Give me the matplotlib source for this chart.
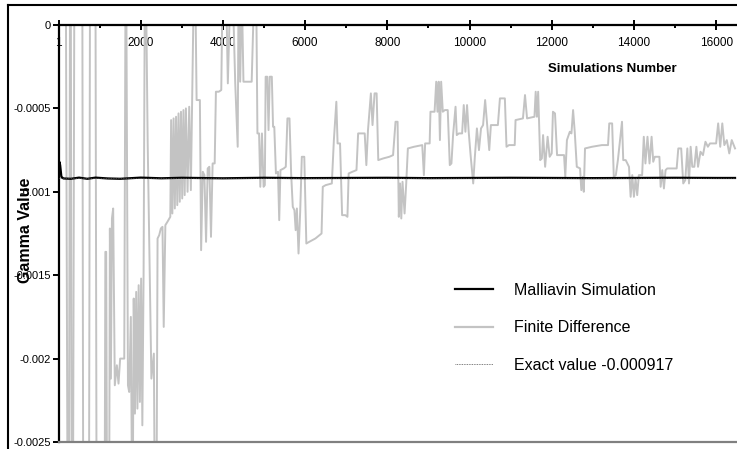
import matplotlib
matplotlib.use("Agg")
import matplotlib.pyplot as plt
from matplotlib.lines import Line2D
import numpy as np

plt.rcParams['font.family'] = ['Liberation Sans', 'DejaVu Sans']

SCALE = 1e-4  # values below are in units of 1e-4

fd_sims = [1, 180, 224, 250, 280, 300, 321, 350, 385, 580, 603, 740, 766, 900, 929, 1120, 1140, 1160, 1185, 1230,
           1250, 1275, 1300, 1330, 1370, 1420, 1460, 1500, 1600, 1630, 1650, 1690, 1720, 1760, 1800, 1830, 1860, 1890,
           1920, 1950, 1980, 2010, 2040, 2070, 2100, 2130, 2170, 2260, 2320, 2350, 2380, 2410, 2450, 2490, 2530, 2560,
           2600, 2650, 2720, 2740, 2770, 2800, 2830, 2860, 2890, 2920, 2950, 2980, 3010, 3040, 3070, 3100, 3140, 3180,
           3220, 3250, 3290, 3330, 3360, 3440, 3470, 3510, 3550, 3590, 3630, 3670, 3710, 3750, 3800, 3830, 3900, 3960,
           3990, 4080, 4120, 4180, 4240, 4300, 4360, 4380, 4420, 4460, 4500, 4700, 4760, 4810, 4840, 4880, 4910, 4950,
           4990, 5020, 5040, 5080, 5110, 5140, 5190, 5220, 5250, 5290, 5340, 5370, 5400, 5480, 5530, 5570, 5620, 5660,
           5700, 5740, 5770, 5800, 5840, 5880, 5920, 5980, 6030, 6100, 6250, 6400, 6430, 6500, 6650, 6700, 6760, 6790,
           6850, 6900, 6980, 7030, 7060, 7150, 7250, 7290, 7450, 7490, 7530, 7600, 7640, 7690, 7740, 7780, 7900, 8050,
           8140, 8200, 8250, 8280, 8310, 8340, 8370, 8420, 8460, 8500, 8650, 8850, 8890, 8920, 9030, 9050, 9150, 9190,
           9220, 9250, 9280, 9310, 9350, 9400, 9470, 9520, 9560, 9600, 9660, 9690, 9740, 9820, 9860, 9900, 9940, 9980,
           10030, 10090, 10130, 10180, 10230, 10280, 10330, 10380, 10430, 10480, 10520, 10690, 10740, 10860, 10900,
           10960, 11100, 11120, 11300, 11350, 11400, 11580, 11610, 11640, 11670, 11720, 11760, 11790, 11840, 11900,
           11950, 12000, 12030, 12080, 12130, 12300, 12330, 12370, 12440, 12480, 12520, 12560, 12610, 12690, 12720,
           12760, 12780, 12810, 12980, 13220, 13370, 13400, 13470, 13510, 13560, 13610, 13710, 13740, 13800, 13880,
           13920, 13960, 14000, 14040, 14080, 14120, 14200, 14240, 14280, 14330, 14380, 14430, 14470, 14510, 14620,
           14650, 14690, 14730, 14770, 14810, 15040, 15080, 15150, 15200, 15250, 15300, 15340, 15380, 15420, 15470,
           15520, 15560, 15620, 15680, 15740, 15800, 15850, 16000, 16050, 16100, 16150, 16200, 16260, 16320, 16380,
           16460]
fd_vals = [2, 2, -32, -32, 2, 2, -32, -32, 2, 2, -32, -32, 2, 2, -32, -32, -13.6, -13.6, -32, -32,
           -12.2, -21.2, -11.6, -11.0, -21.6, -20.4, -21.5, -20.0, -20.0, 2, 2, -21.6, -22.0, -17.5, -32, -16.4, -23.3, -16.0,
           -23.0, -15.6, -22.6, -15.2, -24.0, -15.0, 2, 2, -7.1, -21.2, -19.7, -32, -32, -12.8, -12.6, -12.2, -12.1, -18.1,
           -12.0, -11.8, -11.5, -5.7, -11.3, -5.6, -11.0, -5.5, -10.8, -5.3, -10.6, -5.2, -10.4, -5.1, -10.2, -5.0, -10.0, -4.9,
           -9.9, -4.6, 2, 2, -4.5, -4.5, -13.5, -8.8, -9.0, -13.0, -8.6, -8.5, -12.7, -8.3, -8.3, -4.0, -4.0, -3.9,
           2, 2, -3.5, 2, 2, -3.5, -7.3, 2, -3.4, 2, -3.4, -3.4, 2, 2, -6.5, -6.5, -9.7, -6.5,
           -9.7, -9.6, -3.1, -3.1, -6.3, -3.1, -3.1, -6.1, -6.1, -8.9, -8.8, -11.7, -8.7, -8.6, -8.5, -5.6, -5.6, -8.9,
           -10.9, -11.1, -12.3, -11.0, -13.7, -11.2, -7.9, -7.9, -13.1, -13.0, -12.8, -12.5, -9.7, -9.6, -9.5, -6.9, -4.6, -7.1,
           -7.1, -11.4, -11.4, -11.5, -8.9, -8.8, -8.7, -6.5, -6.5, -8.4, -6.3, -4.1, -6.0, -4.1, -4.1, -8.1, -8.0, -7.9,
           -7.8, -5.8, -5.8, -11.5, -9.5, -11.6, -9.4, -11.3, -9.5, -7.4, -7.3, -7.2, -9.0, -7.1, -7.1, -5.2, -5.2, -3.4,
           -5.2, -3.4, -6.9, -3.4, -5.2, -5.1, -5.1, -8.4, -8.3, -6.6, -4.9, -6.6, -6.5, -6.5, -4.8, -6.4, -4.8, -6.4,
           -7.9, -9.5, -7.9, -6.2, -7.5, -6.2, -6.0, -4.5, -6.0, -7.5, -6.0, -6.0, -4.4, -4.4, -7.3,
           -7.2, -7.2, -5.7, -5.6, -4.2, -5.6, -5.5, -4.0, -5.5, -4.0, -8.1, -8.0, -6.6, -8.5, -6.7,
           -7.9, -7.7, -5.2, -5.3, -7.8, -7.8, -9.1, -6.9, -6.4, -6.5, -5.1, -6.4, -8.5, -8.6, -9.9,
           -9.1, -10.0, -7.4, -7.3, -7.2, -7.2, -5.9, -5.9, -9.1, -9.0, -8.1, -5.8, -8.1, -8.1, -8.5,
           -10.3, -9.0, -10.3, -9.2, -10.2, -9.0, -9.0, -6.7, -8.3, -6.7, -8.3, -6.7, -8.2, -7.9, -7.9,
           -9.7, -8.7, -9.8, -8.7, -8.6, -8.6, -7.4, -7.4, -9.5, -9.3, -7.4, -9.5, -7.3, -8.5, -8.5,
           -7.3, -8.5, -7.6, -7.8, -7.0, -7.3, -7.1, -7.1, -5.9, -7.3, -5.9, -7.2, -6.9, -7.7, -6.9,
           -7.4]

mal_sims = [1, 20, 40, 70, 120, 300, 500, 700, 900, 1200, 1500, 2000, 2500, 3000, 4000, 5000, 6000, 7000,
            8000, 9000, 10000, 11000, 12000, 13000, 14000, 15000, 16000, 16460]
mal_vals = [-8.9, -8.2, -8.4, -9.1, -9.2, -9.22, -9.15, -9.22, -9.15, -9.2, -9.22, -9.15, -9.19, -9.16, -9.19, -9.16,
            -9.18, -9.17, -9.16, -9.18, -9.17, -9.16, -9.17, -9.18, -9.17, -9.16, -9.17, -9.17]

exact_value = -0.000917
x_ticks = [1, 2000, 4000, 6000, 8000, 10000, 12000, 14000, 16000]
y_ticks = [0, -0.0005, -0.001, -0.0015, -0.002, -0.0025]
y_tick_labels = ['0', '-0.0005', '-0.001', '-0.0015', '-0.002', '-0.0025']

W, H = 737, 449
fig = plt.figure(figsize=(W / 100, H / 100), dpi=100)
ax = fig.add_axes([58.5 / W, 1 - 442 / H, 1 - 58.5 / W, (442 - 25) / H])

ax.plot(fd_sims, np.array(fd_vals) * SCALE, color='#c3c3c3', lw=1.4, label='Finite Difference', zorder=2)
ax.plot(mal_sims, np.array(mal_vals) * SCALE, color='black', lw=1.6, label='Malliavin Simulation', zorder=3)
ax.plot([1, 16460], [exact_value, exact_value], color='#555555', lw=0.6, ls=(0, (1, 1)),
        label='Exact value -0.000917', zorder=4)

ax.set_xlim(0, 16508)
ax.set_ylim(-0.0025, 0)

ax.spines['right'].set_visible(False)
ax.spines['bottom'].set_position(('data', 0))
ax.spines['bottom'].set_linewidth(1.6)
ax.spines['top'].set_position(('data', -0.0025))
ax.spines['top'].set_color('#808080')
ax.spines['top'].set_linewidth(1.6)
ax.spines['left'].set_linewidth(1.6)

ax.set_xticks(x_ticks)
ax.set_xticklabels([str(v) for v in x_ticks])
ax.set_xticks(np.arange(1000, 16001, 2000), minor=True)
ax.tick_params(axis='x', which='major', direction='inout', length=7, width=1.4, pad=5, labelsize=8.5)
ax.tick_params(axis='x', which='minor', direction='out', length=2, width=1.4)
ax.set_yticks(y_ticks)
ax.set_yticklabels(y_tick_labels)
ax.tick_params(axis='y', which='major', direction='out', length=4, width=1.4, pad=1.5, labelsize=8)
ax.tick_params(axis='x', top=False)

fig.text(612 / W, 1 - 69 / H, 'Simulations Number', fontsize=9.5, fontweight='bold', ha='center', va='center')
fig.text(26 / W, 1 - 230 / H, 'Gamma Value', rotation=90, fontsize=11.5, fontweight='bold', ha='center', va='center')

handles = [Line2D([], [], color='black', lw=1.6),
           Line2D([], [], color='#c3c3c3', lw=1.6),
           Line2D([], [], color='#555555', lw=0.6, ls=(0, (1, 1)))]
labels = ['Malliavin Simulation', 'Finite Difference', 'Exact value -0.000917']
leg = fig.legend(handles, labels, loc='upper left', bbox_to_anchor=(455 / W, 1 - 283 / H),
                 frameon=False, fontsize=11.5, handlelength=2.4, handletextpad=1.3, labelspacing=1.4,
                 borderpad=0, borderaxespad=0)

# outer border
fig.add_artist(Line2D([8 / W, 8 / W], [0, 1 - 5 / H], color='black', lw=1.5, transform=fig.transFigure))
fig.add_artist(Line2D([8 / W, 1], [1 - 5 / H, 1 - 5 / H], color='black', lw=1.5, transform=fig.transFigure))

fig.savefig('out.png', dpi=100)
